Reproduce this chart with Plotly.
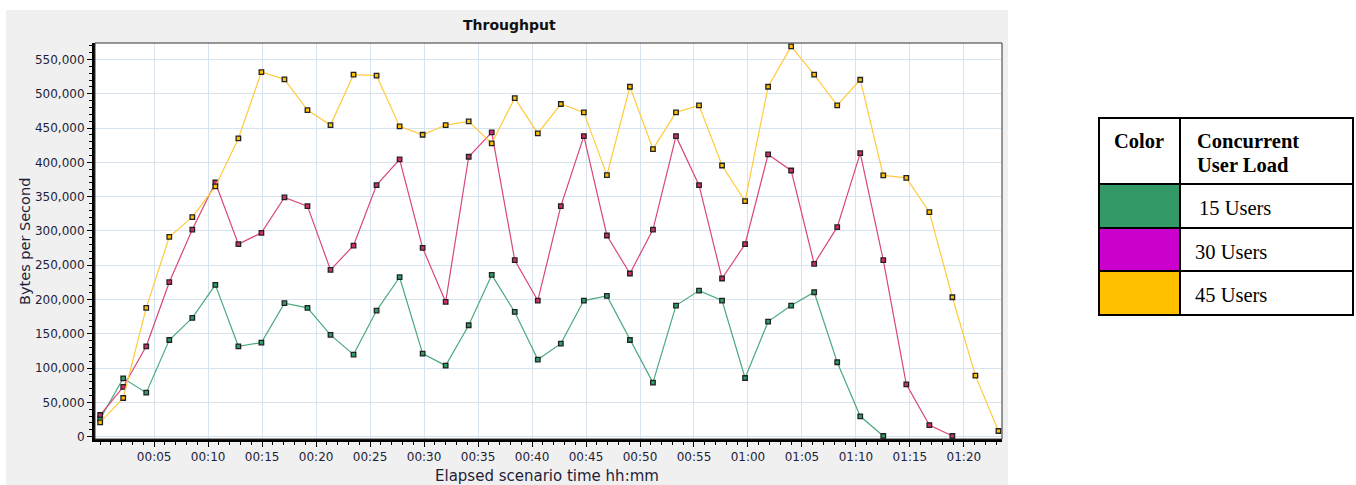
import plotly.graph_objects as go

# ---------------- data ----------------
times = ["00:00:00", "00:02:08", "00:04:16", "00:06:24", "00:08:32", "00:10:40", "00:12:48",
         "00:14:56", "00:17:04", "00:19:12", "00:21:20", "00:23:28", "00:25:36", "00:27:44",
         "00:29:52", "00:32:00", "00:34:08", "00:36:16", "00:38:24", "00:40:32", "00:42:40",
         "00:44:48", "00:46:56", "00:49:04", "00:51:12", "00:53:20", "00:55:28", "00:57:36",
         "00:59:44", "01:01:52", "01:04:00", "01:06:08", "01:08:16", "01:10:24", "01:12:32",
         "01:14:40", "01:16:48", "01:18:56", "01:21:04", "01:23:12"]

users_15 = [26000, 85100, 64200, 141000, 173200, 221300, 131800, 137200, 194600, 187800,
            148400, 119700, 183900, 232500, 121100, 103600, 162500, 235900, 181900, 112400,
            135700, 198500, 205300, 141000, 78800, 191200, 213000, 198500, 85600, 167800,
            191200, 210600, 108500, 29700, 1000]

users_30 = [31600, 72500, 131800, 225200, 302000, 370600, 280700, 297200, 348800, 336100,
            243200, 278700, 366700, 404200, 275300, 196500, 408100, 443600, 257300, 198500,
            336100, 438200, 293300, 237900, 302000, 438200, 366700, 230600, 280700, 411500,
            388100, 252000, 305500, 413400, 257300, 76400, 17000, 1000]

users_45 = [20900, 56400, 187800, 291400, 320000, 364800, 434800, 531600, 521000, 476200,
            454300, 527700, 526300, 452400, 440200, 454300, 459600, 427500, 493700, 442100,
            485000, 472800, 381300, 510200, 419300, 472800, 483000, 395400, 343400, 510200,
            569100, 527700, 483000, 520400, 380900, 377400, 327300, 203300, 89000, 8300]

x_tick_minutes = [5, 10, 15, 20, 25, 30, 35, 40, 45, 50, 55, 60, 65, 70, 75, 80]
x_tick_labels = ["00:05", "00:10", "00:15", "00:20", "00:25", "00:30", "00:35", "00:40",
                 "00:45", "00:50", "00:55", "01:00", "01:05", "01:10", "01:15", "01:20"]
y_tick_values = [0, 50000, 100000, 150000, 200000, 250000, 300000, 350000, 400000,
                 450000, 500000, 550000]

legend_rows = ["15 Users", "30 Users", "45 Users"]
legend_colors = ["#339966", "#CC00CC", "#FFC000"]


def to_minutes(t):
    h, m, s = (int(p) for p in t.split(":"))
    return h * 60 + m + s / 60.0


xm = [to_minutes(t) for t in times]

# ---------------- layout geometry (pixels) ----------------
W, H = 1356, 485
L, R, T, B = 95, 1002, 43, 439


def px(x):
    return (x - L) / (R - L)


def py(y):
    return (B - y) / (B - T)


fig = go.Figure()

series = [
    ("15 Users", xm[:len(users_15)], users_15, "#4BAA7E", "#2E9E6A"),
    ("30 Users", xm[:len(users_30)], users_30, "#D94778", "#D0306A"),
    ("45 Users", xm[:len(users_45)], users_45, "#FFCB3D", "#FFC000"),
]
for name, xs, ys, lc, mc in series:
    fig.add_trace(go.Scatter(
        x=xs, y=ys, name=name, mode="lines+markers",
        line=dict(color=lc, width=1.2),
        marker=dict(symbol="square", size=4.5, color=mc,
                    line=dict(color="#222222", width=1.3)),
        showlegend=False,
    ))

font_ui = "DejaVu Sans"
tick_col = "#1e1e3a"

fig.update_xaxes(
    range=[-0.48, 83.53], tickmode="array", tickvals=x_tick_minutes, ticktext=x_tick_labels,
    showgrid=True, gridcolor="#D8E3F0", gridwidth=1, zeroline=False,
    showline=True, linecolor="black", linewidth=3,
    ticks="outside", ticklen=5, tickcolor="black", tickwidth=1,
    tickfont=dict(family=font_ui, size=12, color=tick_col),
    minor=dict(tickmode="linear", tick0=0, dtick=1, ticks="outside", ticklen=3,
               tickcolor="black", showgrid=False),
)
fig.update_yaxes(
    range=[-3356, 573950], tickmode="array", tickvals=y_tick_values,
    tickformat=",", showgrid=True, gridcolor="#D8E3F0", gridwidth=1, zeroline=False,
    showline=True, linecolor="black", linewidth=3,
    ticks="outside", ticklen=5, tickcolor="black", tickwidth=1,
    tickfont=dict(family=font_ui, size=12, color=tick_col),
    minor=dict(tickmode="linear", tick0=0, dtick=10000, ticks="outside", ticklen=3,
               tickcolor="black", showgrid=False),
)

shapes = [
    # gray chart panel
    dict(type="rect", xref="paper", yref="paper", x0=px(6), x1=px(1008), y0=py(485), y1=py(10),
         fillcolor="#F0F0F0", line=dict(width=0), layer="below"),
    # white plot area
    dict(type="rect", xref="paper", yref="paper", x0=0, x1=1, y0=0, y1=1,
         fillcolor="white", line=dict(width=0), layer="below"),
    # thin frame around plot area
    dict(type="rect", xref="paper", yref="paper", x0=0, x1=1, y0=0, y1=1,
         fillcolor="rgba(0,0,0,0)", line=dict(color="#333333", width=1), layer="above"),
]

# legend table
tx = [1099, 1180, 1353]
ty = [118, 184, 228, 271, 315]
for i, c in enumerate(legend_colors):
    shapes.append(dict(type="rect", xref="paper", yref="paper",
                       x0=px(tx[0]), x1=px(tx[1]), y0=py(ty[i + 2]), y1=py(ty[i + 1]),
                       fillcolor=c, line=dict(width=0), layer="above"))
for yy in ty:
    shapes.append(dict(type="line", xref="paper", yref="paper", x0=px(tx[0] - 1), x1=px(tx[2] + 1),
                       y0=py(yy), y1=py(yy), line=dict(color="black", width=2)))
for xx in tx:
    shapes.append(dict(type="line", xref="paper", yref="paper", x0=px(xx), x1=px(xx),
                       y0=py(ty[0] - 1), y1=py(ty[-1] + 1), line=dict(color="black", width=2)))

serif = "Liberation Serif"
fs = 20.5
annotations = [
    dict(text="<b>Throughput</b>", x=px(509), y=py(25), xref="paper", yref="paper",
         showarrow=False, xanchor="center", yanchor="middle",
         font=dict(family=font_ui, size=14, color="#111111")),
    dict(text="Elapsed scenario time hh:mm", x=px(547), y=py(476), xref="paper", yref="paper",
         showarrow=False, xanchor="center", yanchor="middle",
         font=dict(family=font_ui, size=15, color=tick_col)),
    dict(text="Bytes per Second", x=px(25), y=py(242), xref="paper", yref="paper",
         showarrow=False, xanchor="center", yanchor="middle", textangle=-90,
         font=dict(family=font_ui, size=14.5, color=tick_col)),
    dict(text="<b>Color</b>", x=px(1139), y=py(141), xref="paper", yref="paper",
         showarrow=False, xanchor="center", yanchor="middle",
         font=dict(family=serif, size=fs, color="black")),
    dict(text="<b>Concurrent</b>", x=px(1195), y=py(141), xref="paper", yref="paper",
         showarrow=False, xanchor="left", yanchor="middle",
         font=dict(family=serif, size=fs, color="black")),
    dict(text="<b>User Load</b>", x=px(1195), y=py(165), xref="paper", yref="paper",
         showarrow=False, xanchor="left", yanchor="middle",
         font=dict(family=serif, size=fs, color="black")),
]
label_x = [1197, 1193, 1193]
for i, lab in enumerate(legend_rows):
    annotations.append(dict(text=lab, x=px(label_x[i]), y=py((ty[i + 1] + ty[i + 2]) / 2 + 2),
                            xref="paper", yref="paper", showarrow=False,
                            xanchor="left", yanchor="middle",
                            font=dict(family=serif, size=fs, color="black")))

fig.update_layout(
    width=W, height=H, autosize=False,
    margin=dict(l=L, r=W - R, t=T, b=H - B, pad=0),
    paper_bgcolor="white", plot_bgcolor="rgba(0,0,0,0)",
    shapes=shapes, annotations=annotations,
)

fig.write_html(
    "out.html",
    config={"displayModeBar": False},
    post_script="document.body.style.margin='0';document.body.style.padding='0';"
                "document.body.style.overflow='hidden';",
)
